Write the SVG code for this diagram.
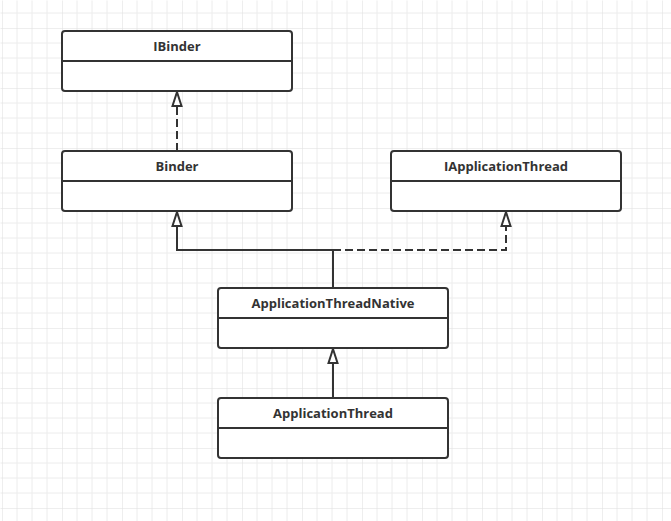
<svg xmlns="http://www.w3.org/2000/svg" width="671" height="521" viewBox="0 0 671 521">
<defs>
<pattern id="grid" patternUnits="userSpaceOnUse" x="2" y="28" width="60" height="60">
<path d="M15 0V60M30 0V60M45 0V60M0 15H60M0 30H60M0 45H60" stroke="#ececec" stroke-width="1" fill="none"/>
<path d="M0 0V60M0 0H60" stroke="#dedede" stroke-width="1" fill="none"/>
</pattern>
<style>
.box{fill:#fff;stroke:#333;stroke-width:2}
.div{stroke:#333;stroke-width:2;fill:none}
.t{font-family:"Open Sans","Noto Sans",sans-serif;font-weight:bold;font-size:13px;fill:#333;text-anchor:middle}
.c{stroke:#333;stroke-width:2;fill:none}
.d{stroke-dasharray:8 4}
.h{fill:#fff;stroke:#333;stroke-width:2}
</style>
</defs>
<rect width="671" height="521" fill="#fff"/>
<rect x="0.5" y="0.5" width="671" height="521" fill="url(#grid)"/>
<g id="connectors">
<path class="c d" d="M177 151V107"/>
<path class="h" d="M177 92L181.5 106H172.5Z"/>
<path class="c" d="M333 288V250H177V226"/>
<path class="h" d="M177 212L181.5 226H172.5Z"/>
<path class="c d" d="M333 250H506V226"/>
<path class="h" d="M506 212L510.5 226H501.5Z"/>
<path class="c" d="M333 398V363"/>
<path class="h" d="M333 349L337.5 363H328.5Z"/>
</g>
<g id="IBinder">
<rect class="box" x="62" y="31" width="230" height="60" rx="3"/>
<path class="div" d="M62 61H292"/>
<text class="t" x="177" y="51">IBinder</text>
</g>
<g id="Binder">
<rect class="box" x="62" y="151" width="230" height="60" rx="3"/>
<path class="div" d="M62 181H292"/>
<text class="t" x="177" y="171">Binder</text>
</g>
<g id="IApplicationThread">
<rect class="box" x="391" y="151" width="230" height="60" rx="3"/>
<path class="div" d="M391 181H621"/>
<text class="t" x="506" y="171">IApplicationThread</text>
</g>
<g id="ApplicationThreadNative">
<rect class="box" x="218" y="288" width="230" height="60" rx="3"/>
<path class="div" d="M218 318H448"/>
<text class="t" x="333" y="308">ApplicationThreadNative</text>
</g>
<g id="ApplicationThread">
<rect class="box" x="218" y="398" width="230" height="60" rx="3"/>
<path class="div" d="M218 428H448"/>
<text class="t" x="333" y="418">ApplicationThread</text>
</g>
</svg>
